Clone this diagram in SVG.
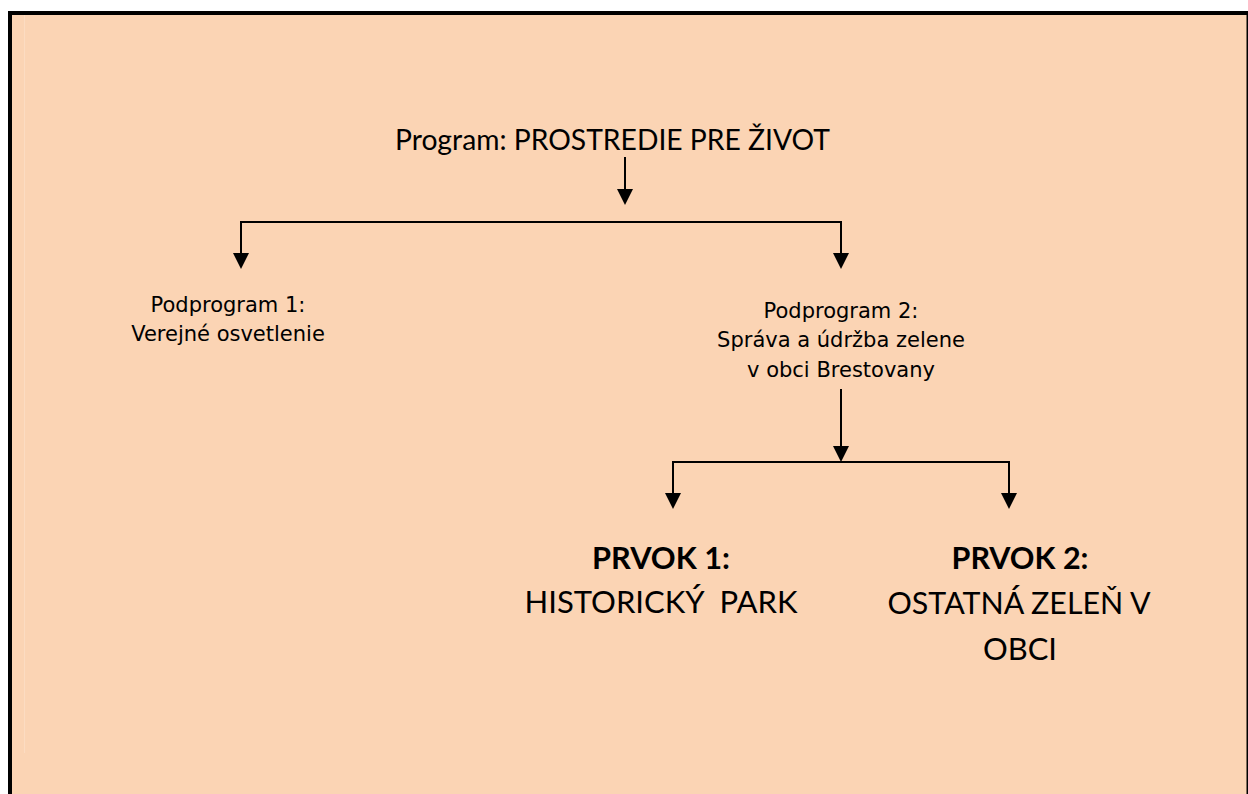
<svg xmlns="http://www.w3.org/2000/svg" width="1248" height="794" viewBox="0 0 1248 794">
<defs>
<style>
.gothic{font-family:Lato,"Open Sans","Liberation Sans",sans-serif;fill:#000}
.verd{font-family:"DejaVu Sans",Verdana,sans-serif;font-size:21px;fill:#000}
.conn{fill:none;stroke:#000;stroke-width:2}
</style>
<marker id="arr" viewBox="0 0 16 16" refX="14" refY="8" markerWidth="16" markerHeight="16" markerUnits="userSpaceOnUse" orient="auto-start-reverse">
<path d="M0,0 L16,8 L0,16 z" fill="#000"/>
</marker>
</defs>
<rect x="8" y="11" width="1240" height="790" fill="#000"/>
<rect x="12" y="15" width="1234.5" height="785" fill="#FBD4B4"/>
<line x1="24.5" y1="15" x2="24.5" y2="753" stroke="#FCDCC2" stroke-width="1"/>

<g id="connectors">
<path class="conn" d="M625,157 V203" marker-end="url(#arr)"/>
<path class="conn" d="M241,267 V222 H841 V267" marker-start="url(#arr)" marker-end="url(#arr)"/>
<path class="conn" d="M841,389 V460" marker-end="url(#arr)"/>
<path class="conn" d="M673,507 V462 H1009 V507" marker-start="url(#arr)" marker-end="url(#arr)"/>
</g>

<g id="program">
<text class="gothic" x="395" y="150" font-size="28" textLength="435" lengthAdjust="spacingAndGlyphs">Program: PROSTREDIE PRE ŽIVOT</text>
</g>

<g id="podprogram1">
<text class="verd" x="228" y="312" text-anchor="middle">Podprogram 1:</text>
<text class="verd" x="228" y="341" text-anchor="middle">Verejné osvetlenie</text>
</g>

<g id="podprogram2">
<text class="verd" x="841" y="318" text-anchor="middle">Podprogram 2:</text>
<text class="verd" x="841" y="347" text-anchor="middle">Správa a údržba zelene</text>
<text class="verd" x="841" y="377" text-anchor="middle">v obci Brestovany</text>
</g>

<g id="prvok1">
<text class="gothic" x="661" y="569" font-size="31" font-weight="bold" text-anchor="middle" textLength="138" lengthAdjust="spacingAndGlyphs">PRVOK 1:</text>
<text class="gothic" x="661" y="613" font-size="31" text-anchor="middle" textLength="273" lengthAdjust="spacingAndGlyphs" xml:space="preserve">HISTORICKÝ  PARK</text>
</g>

<g id="prvok2">
<text class="gothic" x="1020" y="569" font-size="31" font-weight="bold" text-anchor="middle" textLength="137" lengthAdjust="spacingAndGlyphs">PRVOK 2:</text>
<text class="gothic" x="1019" y="614" font-size="31" text-anchor="middle" textLength="263" lengthAdjust="spacingAndGlyphs">OSTATNÁ ZELEŇ V</text>
<text class="gothic" x="1020" y="660" font-size="31" text-anchor="middle" textLength="74" lengthAdjust="spacingAndGlyphs">OBCI</text>
</g>
</svg>
